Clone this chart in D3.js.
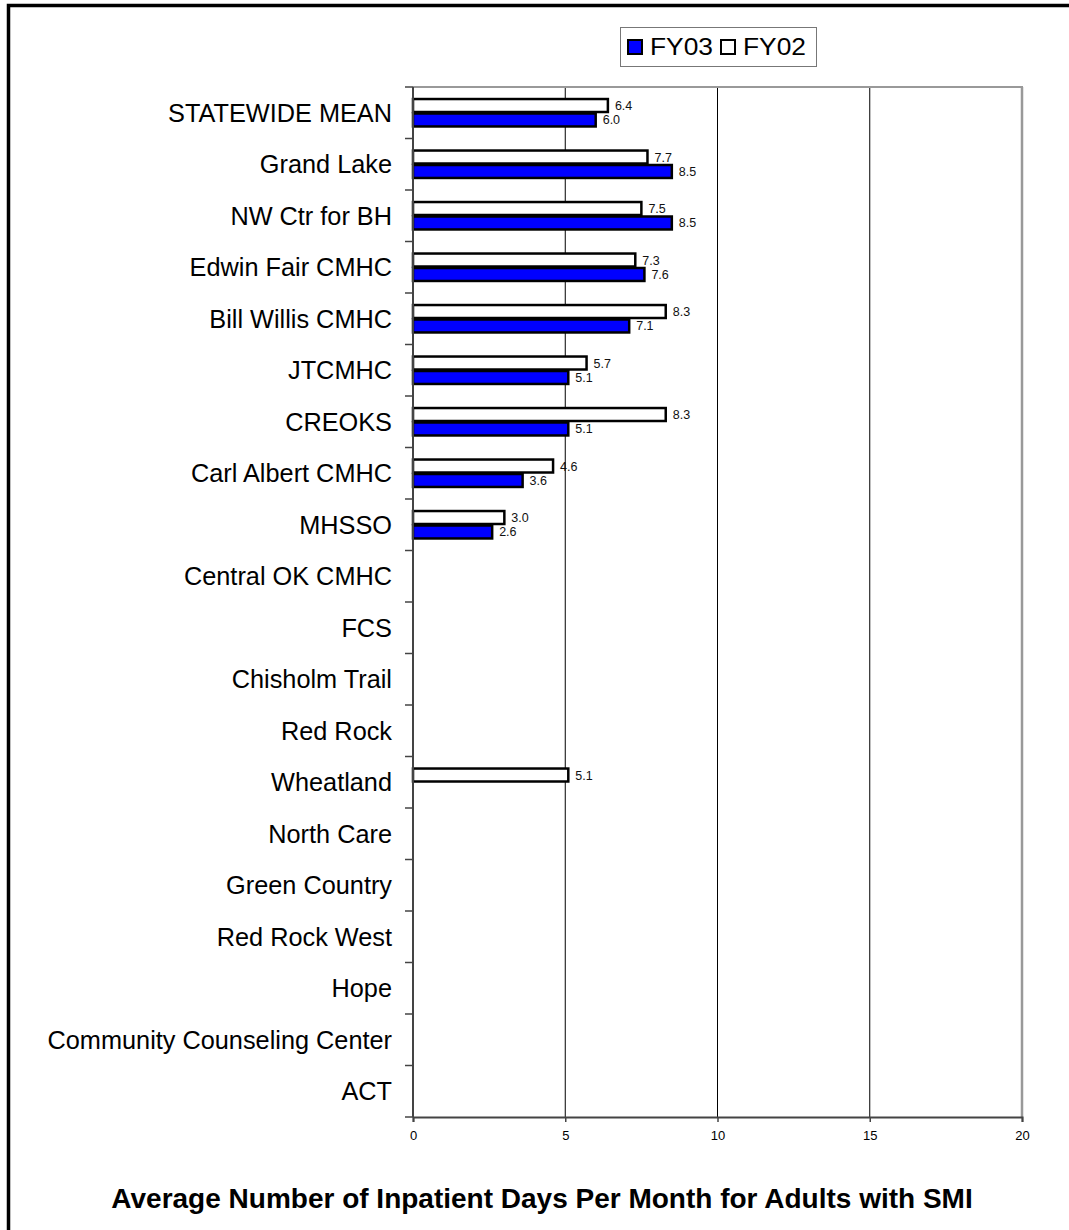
<!DOCTYPE html>
<html>
<head>
<meta charset="utf-8">
<script src="https://cdn.jsdelivr.net/npm/d3@7"></script>
<style>
  html, body { margin: 0; padding: 0; background: #fff; }
  svg { display: block; font-family: "Liberation Sans", Arial, sans-serif; }
</style>
</head>
<body>
<svg id="chart" width="1069" height="1230"></svg>
<script>
const categories = [
  "STATEWIDE MEAN", "Grand Lake", "NW Ctr for BH", "Edwin Fair CMHC", "Bill Willis CMHC",
  "JTCMHC", "CREOKS", "Carl Albert CMHC", "MHSSO", "Central OK CMHC", "FCS",
  "Chisholm Trail", "Red Rock", "Wheatland", "North Care", "Green Country",
  "Red Rock West", "Hope", "Community Counseling Center", "ACT"
];
const fy03 = [6.0, 8.5, 8.5, 7.6, 7.1, 5.1, 5.1, 3.6, 2.6, null, null, null, null, null, null, null, null, null, null, null];
const fy02 = [6.4, 7.7, 7.5, 7.3, 8.3, 5.7, 8.3, 4.6, 3.0, null, null, null, null, 5.1, null, null, null, null, null, null];
const xTicks = [0, 5, 10, 15, 20];
const seriesNames = ["FY03", "FY02"];
const seriesColors = { FY03: "#0000ff", FY02: "#ffffff" };
const title = "Average Number of Inpatient Days Per Month for Adults with SMI";

(function () {
const svg = d3.select("#chart");

// outer border (only top and left visible in the crop)
svg.append("rect")
  .attr("x", 8.5).attr("y", 5.5).attr("width", 1200).attr("height", 1400)
  .attr("fill", "none").attr("stroke", "#000").attr("stroke-width", 3.5);

const pL = 413, pR = 1022, pT = 87, pB = 1117;
const x = d3.scaleLinear().domain([0, 20]).range([pL, pR]);
const y = d3.scaleBand().domain(categories).range([pT, pB]).paddingInner(0).paddingOuter(0);
const sub = d3.scaleBand().domain(["FY02", "FY03"]).range([0, y.bandwidth()]).paddingInner(0).paddingOuter(0.78);

// vertical gridlines
svg.append("g").selectAll("line")
  .data(xTicks.filter(t => t > 0 && t < 20))
  .join("line")
  .attr("x1", d => x(d)).attr("x2", d => x(d))
  .attr("y1", pT).attr("y2", pB)
  .attr("stroke", "#000").attr("stroke-width", 1);

// plot frame top & right (gray)
svg.append("line").attr("x1", pL).attr("x2", pR + 1).attr("y1", pT).attr("y2", pT)
  .attr("stroke", "#999").attr("stroke-width", 2);
svg.append("line").attr("x1", pR).attr("x2", pR).attr("y1", pT).attr("y2", pB)
  .attr("stroke", "#999").attr("stroke-width", 2.5);

// data rows
const rows = categories.map((c, i) => ({ c, FY03: fy03[i], FY02: fy02[i] }));
const barsG = svg.append("g");
["FY02", "FY03"].forEach(s => {
  const data = rows.filter(r => r[s] != null);
  barsG.selectAll("rect." + s).data(data).join("rect")
    .attr("class", s)
    .attr("x", x(0))
    .attr("y", d => y(d.c) + sub(s) + 0.75)
    .attr("width", d => x(d[s]) - x(0))
    .attr("height", sub.bandwidth() - 1.5)
    .attr("fill", seriesColors[s])
    .attr("stroke", "#000").attr("stroke-width", 2.5);
  barsG.selectAll("text." + s).data(data).join("text")
    .attr("class", s)
    .attr("x", d => x(d[s]) + 7)
    .attr("y", d => y(d.c) + sub(s) + sub.bandwidth() / 2 + 4.5)
    .attr("font-size", 12.5).attr("fill", "#111")
    .text(d => d3.format(".1f")(d[s]));
});

// left axis
svg.append("line").attr("x1", pL).attr("x2", pL).attr("y1", pT).attr("y2", pB)
  .attr("stroke", "#444").attr("stroke-width", 2);
svg.append("g").selectAll("line")
  .data(categories.concat(["__end"]))
  .join("line")
  .attr("x1", pL - 8).attr("x2", pL)
  .attr("y1", (d, i) => i < categories.length ? y(d) : pB)
  .attr("y2", (d, i) => i < categories.length ? y(d) : pB)
  .attr("stroke", "#444").attr("stroke-width", 1.5);
svg.append("g").selectAll("text")
  .data(categories)
  .join("text")
  .attr("x", pL - 21)
  .attr("y", d => y(d) + y.bandwidth() / 2 + 9)
  .attr("text-anchor", "end")
  .attr("font-size", 25.3).attr("fill", "#000")
  .text(d => d);

// bottom axis
const xAxis = d3.axisBottom(x).tickValues(xTicks).tickSize(5).tickPadding(9).tickFormat(d3.format("d"));
const gx = svg.append("g").attr("transform", `translate(0,${pB})`).call(xAxis);
gx.select(".domain").attr("stroke", "#444").attr("stroke-width", 2);
gx.selectAll(".tick line").attr("stroke", "#444").attr("stroke-width", 1.5);
gx.selectAll(".tick text").attr("font-size", 13).attr("fill", "#000")
  .attr("font-family", "'Liberation Sans', Arial, sans-serif");

// legend
const lg = svg.append("g");
lg.append("rect").attr("x", 620.5).attr("y", 27.5).attr("width", 196).attr("height", 39)
  .attr("fill", "#fff").attr("stroke", "#777").attr("stroke-width", 1);
const legendX = { FY03: 627, FY02: 720 };
seriesNames.forEach(s => {
  lg.append("rect").attr("x", legendX[s] + 1).attr("y", 40).attr("width", 14).attr("height", 14)
    .attr("fill", seriesColors[s]).attr("stroke", "#000").attr("stroke-width", 2);
  lg.append("text").attr("x", legendX[s] + 23).attr("y", 55)
    .attr("font-size", 23).attr("fill", "#000")
    .attr("textLength", 63).attr("lengthAdjust", "spacingAndGlyphs")
    .text(s);
});

// title
svg.append("text").attr("x", 542).attr("y", 1208)
  .attr("text-anchor", "middle").attr("font-size", 28).attr("font-weight", "bold")
  .attr("fill", "#000").text(title);
})();
</script>
</body>
</html>
